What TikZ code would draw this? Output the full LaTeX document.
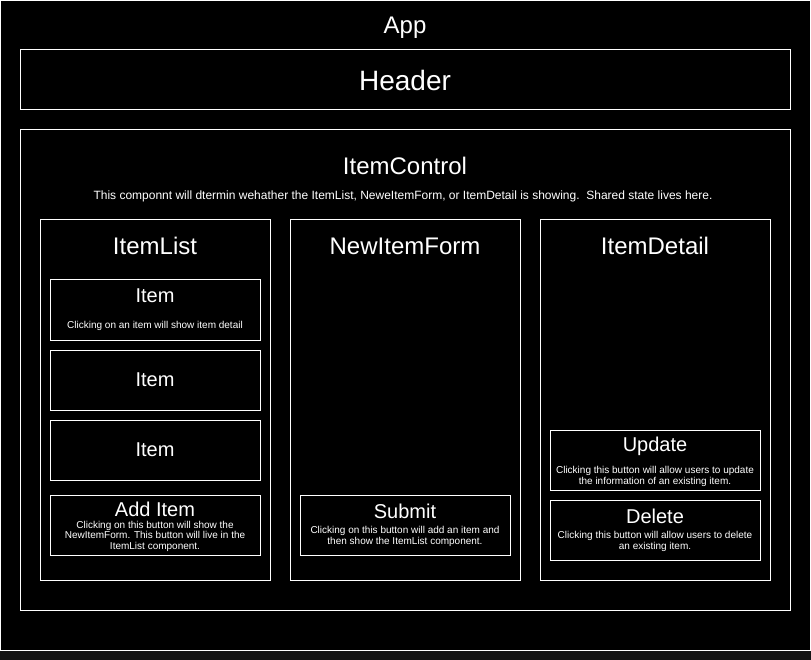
\documentclass[tikz,border=0pt]{standalone}
\usepackage{fontspec}
\setmainfont{Liberation Sans}
\setsansfont{Liberation Sans}
\usetikzlibrary{positioning}
\definecolor{pagebg}{RGB}{20,20,20}
\tikzset{frame/.style={draw=white, line width=1pt, fill=black, inner sep=0pt, outer sep=0pt},
  column/.style={frame, minimum width=230pt, minimum height=360pt},
  btn/.style={frame, minimum width=210pt, minimum height=60pt},
  lbl/.style={text=white, inner sep=0pt},
  huge/.style={lbl, font=\fontsize{28}{30}\selectfont},
  big/.style={lbl, font=\fontsize{24}{26}\selectfont},
  mid/.style={lbl, font=\fontsize{20}{22}\selectfont},
  desc/.style={lbl, font=\fontsize{12}{14}\selectfont},
  note/.style={lbl, align=center, font=\fontsize{10}{10.5}\selectfont}}

\begin{document}
\begin{tikzpicture}[x=1pt, y=-1pt]
  \fill[pagebg] (0,0) rectangle (811,660);
  \useasboundingbox (0,0) rectangle (811,660);
  % nested frames
  \node[frame, minimum width=810pt, minimum height=650pt] (app) at (405.5,325.5) {};
  \node[frame, minimum width=770pt, minimum height=60pt] (header) at (405,80) {};
  \node[frame, minimum width=770pt, minimum height=480pt] (control) at (405,370) {};
  \node[column] (list) at (155,400) {};
  \node[column] (form) at (405,400) {};
  \node[column] (detail) at (655,400) {};
  % buttons
  \node[btn] (item1) at (155,310) {};
  \node[btn, below=10pt of item1] (item2) {};
  \node[btn, below=10pt of item2] (item3) {};
  \node[btn, below=15pt of item3] (additem) {};
  \node[btn] (submit) at (405,525) {};
  \node[btn] (update) at (655,460) {};
  \node[btn, below=10pt of update] (delete) {};
  % titles
  \node[big] (applbl) at (405,27.5) {App};
  \node[huge] (headerlbl) at (header) {Header};
  \node[big] (controllbl) at (405,166) {ItemControl};
  \node[desc] (controlnote) at (403,196) {This componnt will dtermin wehather the ItemList, NeweItemForm, or ItemDetail is showing.~~Shared state lives here.};
  \node[big] (listlbl) at (155,246) {ItemList};
  \node[big] (formlbl) at (405,246) {NewItemForm};
  \node[big] (detaillbl) at (655,246) {ItemDetail};
  % button texts
  \node[mid] (item1lbl) at (155,296) {Item};
  \node[note] (item1note) at (155,325.5) {Clicking on an item will show item detail};
  \node[mid] (item2lbl) at (item2) {Item};
  \node[mid] (item3lbl) at (item3) {Item};
  \node[mid] (addlbl) at (155,509.5) {Add Item};
  \node[note] (addnote) at (155,536) {Clicking on this button will show the\\NewItemForm. This button will live in the\\ItemList component.};
  \node[mid] (submitlbl) at (405,511) {Submit};
  \node[note] (submitnote) at (405,536.5) {Clicking on this button will add an item and\\then show the ItemList component.};
  \node[mid] (updatelbl) at (655,446) {Update};
  \node[note] (updatenote) at (655,476.5) {Clicking this button will allow users to update\\the information of an existing item.};
  \node[mid] (deletelbl) at (655,516) {Delete};
  \node[note] (deletenote) at (655,541.5) {Clicking this button will allow users to delete\\an existing item.};
\end{tikzpicture}
\end{document}
